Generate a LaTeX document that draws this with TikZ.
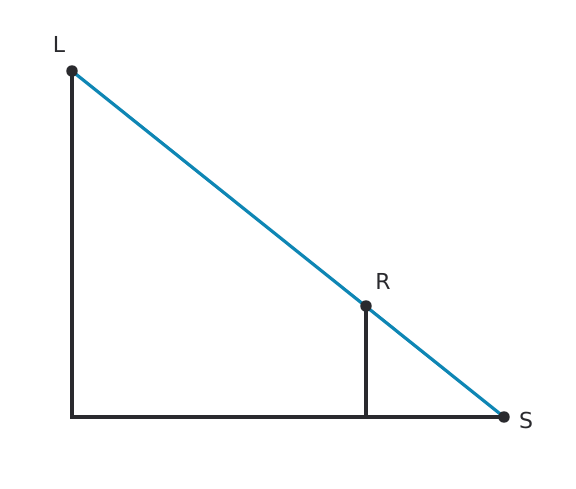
\documentclass[tikz,border=0pt]{standalone}
\usepackage{fontspec}
\setmainfont{DejaVu Sans}
\definecolor{darkline}{HTML}{2A2A2E}
\definecolor{slope}{HTML}{0E86B4}
\tikzset{
  pt/.style={circle,fill=darkline,inner sep=0pt,minimum size=8.6pt},
  lbl/.style={font=\fontsize{16.5}{19}\selectfont,text=darkline,inner sep=0pt}
}
\begin{document}
\begin{tikzpicture}[x=0.75pt,y=-0.75pt,line width=2.4pt]
  \useasboundingbox (0,0) rectangle (576,489);
  \coordinate (L) at (72,71);
  \coordinate (R) at (366,306);
  \coordinate (S) at (504,417);
  \coordinate (O) at (72,417);
  \coordinate (F) at (366,417);
  \draw[darkline] (L) -- (O) -- (S);
  \draw[darkline] (R) -- (F);
  \draw[slope] (L) -- (S);
  \node[pt] (l) at (L) {};
  \node[pt] (r) at (R) {};
  \node[pt] (s) at (S) {};
  \node[lbl] (Ltext) at (59,44) {L};
  \node[lbl] (Rtext) at (383,281) {R};
  \node[lbl] (Stext) at (526,420) {S};
\end{tikzpicture}
\end{document}
